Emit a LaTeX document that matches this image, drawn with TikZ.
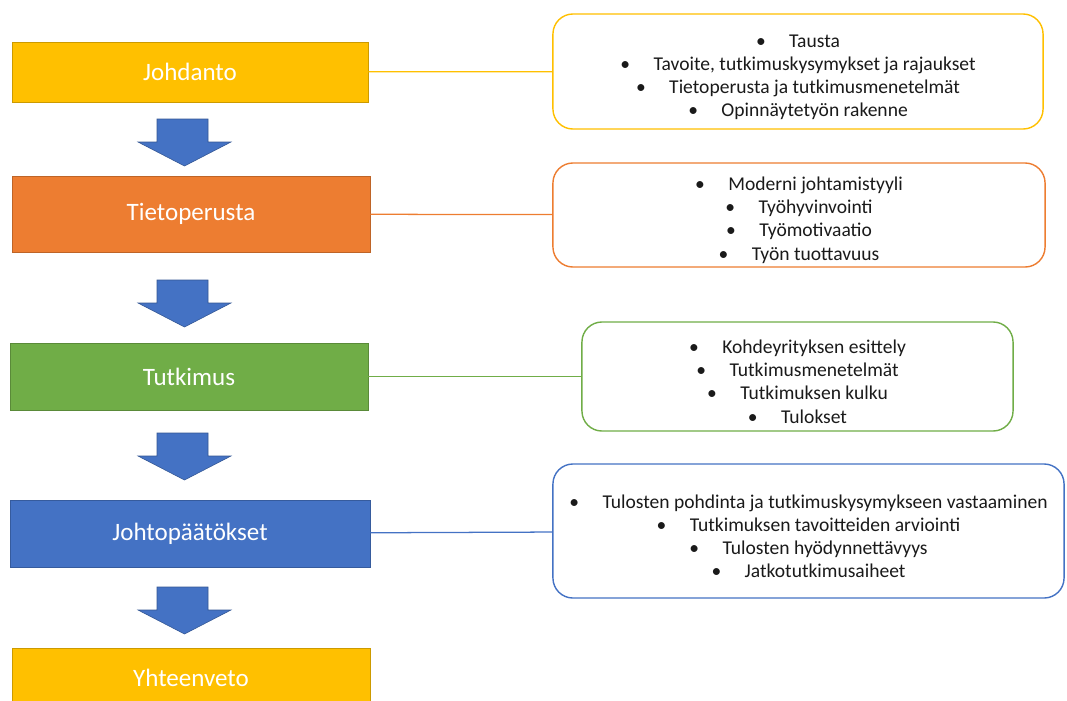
\documentclass[tikz,border=0pt]{standalone}
\usepackage{fontspec}
\setmainfont{Carlito}
\definecolor{offyellow}{HTML}{FFC000}
\definecolor{offorange}{HTML}{ED7D31}
\definecolor{offgreen}{HTML}{70AD47}
\definecolor{offblue}{HTML}{4472C4}
\definecolor{inktext}{HTML}{1A1A1A}

\tikzset{
  stage/.style={draw=#1!80!black, fill=#1, text=white, inner sep=0pt,
    font=\fontsize{17.8}{21}\selectfont},
  topics/.style={draw=#1, line width=1pt, rounded corners=0.5cm, fill=white,
    text=inktext, align=center, inner sep=0pt,
    font=\fontsize{13.9}{16.5}\selectfont},
  link/.style={draw=#1, line width=0.9pt},
  flow/.style={fill=offblue, draw=offblue!75!black, line width=0.4pt}
}
\newcommand{\itm}[1]{\textbullet\hspace{1.2em}#1}
\newcommand{\firstitm}[1]{\rule{0pt}{17pt}\itm{#1}}

\begin{document}
\begin{tikzpicture}[x=0.025cm,y=-0.025cm]
      % Bounding box
      \useasboundingbox (0,0) rectangle (1067,700);
      \clip (0,0) rectangle (1067,700);

      % Vaiheet
      \draw (190,72) node[stage=offyellow, minimum width=8.9cm, minimum height=1.5cm] (johdanto) {Johdanto};
      \draw (191,214) node[stage=offorange, minimum width=8.95cm, minimum height=1.9cm] (tietoperusta) {Tietoperusta};
      \draw (189,376.5) node[stage=offgreen, minimum width=8.95cm, minimum height=1.675cm] (tutkimus) {Tutkimus};
      \draw (190,533.5) node[stage=offblue, minimum width=9cm, minimum height=1.675cm] (johtopaatokset) {Johtopäätökset};
      \draw (191,678) node[stage=offyellow, minimum width=8.95cm, minimum height=1.5cm] (yhteenveto) {Yhteenveto};

      % Nuolet
      \foreach \y in {119,280,433,587}
        \draw[flow] (157,\y) -- (208,\y) -- (208,\y+23) -- (231,\y+23) -- (184.5,\y+47)
          -- (138,\y+23) -- (157,\y+23) -- cycle;

      % Sisällöt
      \draw (798,71.5) node[topics=offyellow, minimum width=12.25cm, minimum height=2.875cm] (johdantosisalto)
        {\firstitm{Tausta}\\ \itm{Tavoite, tutkimuskysymykset ja rajaukset}\\
         \itm{Tietoperusta ja tutkimusmenetelmät}\\ \itm{Opinnäytetyön rakenne}};
      \draw (799,215) node[topics=offorange, minimum width=12.3cm, minimum height=2.6cm] (tietosisalto)
        {\firstitm{Moderni johtamistyyli}\\ \itm{Työhyvinvointi}\\
         \itm{Työmotivaatio}\\ \itm{Työn tuottavuus}};
      \draw (797.5,376.5) node[topics=offgreen, minimum width=10.775cm, minimum height=2.725cm] (tutkimussisalto)
        {\firstitm{Kohdeyrityksen esittely}\\ \itm{Tutkimusmenetelmät}\\
         \itm{Tutkimuksen kulku}\\ \itm{Tulokset}};
      \draw (808.5,531) node[topics=offblue, minimum width=12.775cm, minimum height=3.35cm] (paatossisalto)
        {\firstitm{Tulosten pohdinta ja tutkimuskysymykseen vastaaminen}\\ \itm{Tutkimuksen tavoitteiden arviointi}\\
         \itm{Tulosten hyödynnettävyys}\\ \itm{Jatkotutkimusaiheet}};

      % Yhteydet
      \draw [link=offyellow] (johdanto) -- (johdantosisalto);
      \draw [link=offorange] (tietoperusta) -- (tietosisalto);
      \draw [link=offgreen] (tutkimus) -- (tutkimussisalto);
      \draw [link=offblue] (johtopaatokset) -- (paatossisalto);
    \end{tikzpicture}
\end{document}
